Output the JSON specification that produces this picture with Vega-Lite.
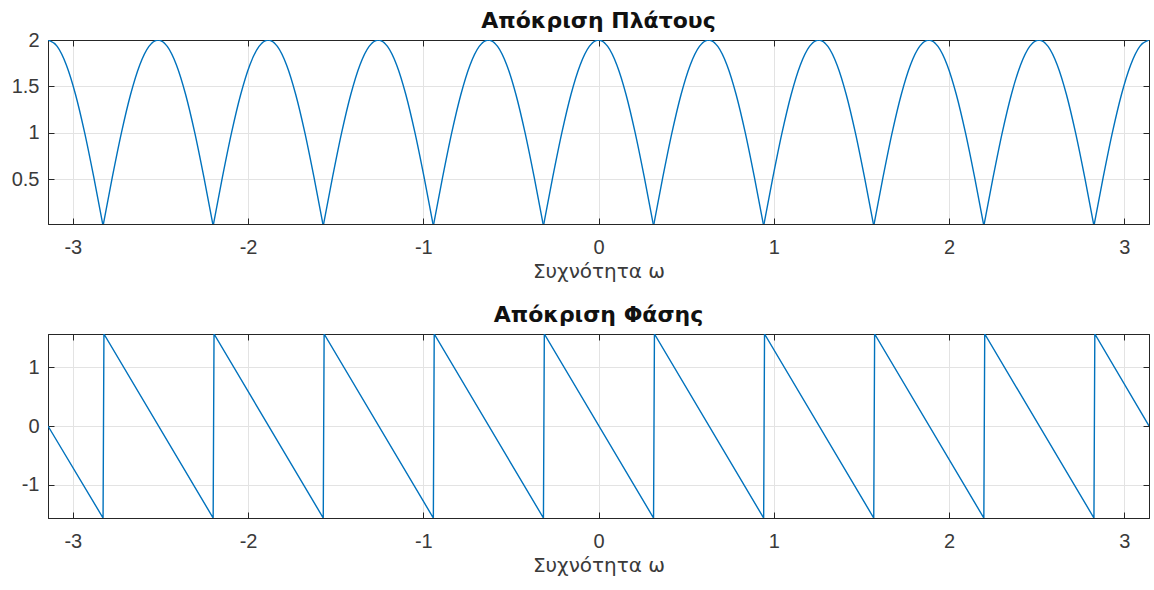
{
  "$schema": "https://vega.github.io/schema/vega-lite/v6.json",
  "padding": {"left": 10, "top": 9, "right": 4, "bottom": 4},
  "background": "white",
  "spacing": 21,
  "datasets": {
    "mag": [
      {"k": 0, "w": -3.1416, "m": 2}, {"k": 0, "w": -3.0892, "m": 1.932}, {"k": 0, "w": -3.0369, "m": 1.732}, {"k": 0, "w": -2.9845, "m": 1.414},
      {"k": 0, "w": -2.9322, "m": 1}, {"k": 0, "w": -2.8798, "m": 0.518}, {"k": 0, "w": -2.8274, "m": 0},
      {"k": 1, "w": -2.8274, "m": 0}, {"k": 1, "w": -2.7751, "m": 0.518}, {"k": 1, "w": -2.7227, "m": 1}, {"k": 1, "w": -2.6704, "m": 1.414},
      {"k": 1, "w": -2.618, "m": 1.732}, {"k": 1, "w": -2.5656, "m": 1.932}, {"k": 1, "w": -2.5133, "m": 2}, {"k": 1, "w": -2.4609, "m": 1.932},
      {"k": 1, "w": -2.4086, "m": 1.732}, {"k": 1, "w": -2.3562, "m": 1.414}, {"k": 1, "w": -2.3038, "m": 1}, {"k": 1, "w": -2.2515, "m": 0.518},
      {"k": 1, "w": -2.1991, "m": 0},
      {"k": 2, "w": -2.1991, "m": 0}, {"k": 2, "w": -2.1468, "m": 0.518}, {"k": 2, "w": -2.0944, "m": 1}, {"k": 2, "w": -2.042, "m": 1.414},
      {"k": 2, "w": -1.9897, "m": 1.732}, {"k": 2, "w": -1.9373, "m": 1.932}, {"k": 2, "w": -1.885, "m": 2}, {"k": 2, "w": -1.8326, "m": 1.932},
      {"k": 2, "w": -1.7802, "m": 1.732}, {"k": 2, "w": -1.7279, "m": 1.414}, {"k": 2, "w": -1.6755, "m": 1}, {"k": 2, "w": -1.6232, "m": 0.518},
      {"k": 2, "w": -1.5708, "m": 0},
      {"k": 3, "w": -1.5708, "m": 0}, {"k": 3, "w": -1.5184, "m": 0.518}, {"k": 3, "w": -1.4661, "m": 1}, {"k": 3, "w": -1.4137, "m": 1.414},
      {"k": 3, "w": -1.3614, "m": 1.732}, {"k": 3, "w": -1.309, "m": 1.932}, {"k": 3, "w": -1.2566, "m": 2}, {"k": 3, "w": -1.2043, "m": 1.932},
      {"k": 3, "w": -1.1519, "m": 1.732}, {"k": 3, "w": -1.0996, "m": 1.414}, {"k": 3, "w": -1.0472, "m": 1}, {"k": 3, "w": -0.9948, "m": 0.518},
      {"k": 3, "w": -0.9425, "m": 0},
      {"k": 4, "w": -0.9425, "m": 0}, {"k": 4, "w": -0.8901, "m": 0.518}, {"k": 4, "w": -0.8378, "m": 1}, {"k": 4, "w": -0.7854, "m": 1.414},
      {"k": 4, "w": -0.733, "m": 1.732}, {"k": 4, "w": -0.6807, "m": 1.932}, {"k": 4, "w": -0.6283, "m": 2}, {"k": 4, "w": -0.576, "m": 1.932},
      {"k": 4, "w": -0.5236, "m": 1.732}, {"k": 4, "w": -0.4712, "m": 1.414}, {"k": 4, "w": -0.4189, "m": 1}, {"k": 4, "w": -0.3665, "m": 0.518},
      {"k": 4, "w": -0.3142, "m": 0},
      {"k": 5, "w": -0.3142, "m": 0}, {"k": 5, "w": -0.2618, "m": 0.518}, {"k": 5, "w": -0.2094, "m": 1}, {"k": 5, "w": -0.1571, "m": 1.414},
      {"k": 5, "w": -0.1047, "m": 1.732}, {"k": 5, "w": -0.0524, "m": 1.932}, {"k": 5, "w": 0, "m": 2}, {"k": 5, "w": 0.0524, "m": 1.932},
      {"k": 5, "w": 0.1047, "m": 1.732}, {"k": 5, "w": 0.1571, "m": 1.414}, {"k": 5, "w": 0.2094, "m": 1}, {"k": 5, "w": 0.2618, "m": 0.518},
      {"k": 5, "w": 0.3142, "m": 0},
      {"k": 6, "w": 0.3142, "m": 0}, {"k": 6, "w": 0.3665, "m": 0.518}, {"k": 6, "w": 0.4189, "m": 1}, {"k": 6, "w": 0.4712, "m": 1.414},
      {"k": 6, "w": 0.5236, "m": 1.732}, {"k": 6, "w": 0.576, "m": 1.932}, {"k": 6, "w": 0.6283, "m": 2}, {"k": 6, "w": 0.6807, "m": 1.932},
      {"k": 6, "w": 0.733, "m": 1.732}, {"k": 6, "w": 0.7854, "m": 1.414}, {"k": 6, "w": 0.8378, "m": 1}, {"k": 6, "w": 0.8901, "m": 0.518},
      {"k": 6, "w": 0.9425, "m": 0},
      {"k": 7, "w": 0.9425, "m": 0}, {"k": 7, "w": 0.9948, "m": 0.518}, {"k": 7, "w": 1.0472, "m": 1}, {"k": 7, "w": 1.0996, "m": 1.414},
      {"k": 7, "w": 1.1519, "m": 1.732}, {"k": 7, "w": 1.2043, "m": 1.932}, {"k": 7, "w": 1.2566, "m": 2}, {"k": 7, "w": 1.309, "m": 1.932},
      {"k": 7, "w": 1.3614, "m": 1.732}, {"k": 7, "w": 1.4137, "m": 1.414}, {"k": 7, "w": 1.4661, "m": 1}, {"k": 7, "w": 1.5184, "m": 0.518},
      {"k": 7, "w": 1.5708, "m": 0},
      {"k": 8, "w": 1.5708, "m": 0}, {"k": 8, "w": 1.6232, "m": 0.518}, {"k": 8, "w": 1.6755, "m": 1}, {"k": 8, "w": 1.7279, "m": 1.414},
      {"k": 8, "w": 1.7802, "m": 1.732}, {"k": 8, "w": 1.8326, "m": 1.932}, {"k": 8, "w": 1.885, "m": 2}, {"k": 8, "w": 1.9373, "m": 1.932},
      {"k": 8, "w": 1.9897, "m": 1.732}, {"k": 8, "w": 2.042, "m": 1.414}, {"k": 8, "w": 2.0944, "m": 1}, {"k": 8, "w": 2.1468, "m": 0.518},
      {"k": 8, "w": 2.1991, "m": 0},
      {"k": 9, "w": 2.1991, "m": 0}, {"k": 9, "w": 2.2515, "m": 0.518}, {"k": 9, "w": 2.3038, "m": 1}, {"k": 9, "w": 2.3562, "m": 1.414},
      {"k": 9, "w": 2.4086, "m": 1.732}, {"k": 9, "w": 2.4609, "m": 1.932}, {"k": 9, "w": 2.5133, "m": 2}, {"k": 9, "w": 2.5656, "m": 1.932},
      {"k": 9, "w": 2.618, "m": 1.732}, {"k": 9, "w": 2.6704, "m": 1.414}, {"k": 9, "w": 2.7227, "m": 1}, {"k": 9, "w": 2.7751, "m": 0.518},
      {"k": 9, "w": 2.8274, "m": 0},
      {"k": 10, "w": 2.8274, "m": 0}, {"k": 10, "w": 2.8798, "m": 0.518}, {"k": 10, "w": 2.9322, "m": 1}, {"k": 10, "w": 2.9845, "m": 1.414},
      {"k": 10, "w": 3.0369, "m": 1.732}, {"k": 10, "w": 3.0892, "m": 1.932}, {"k": 10, "w": 3.1416, "m": 2}
    ],
    "phase": [
      {"i": 0, "w": -3.1416, "p": 0},
      {"i": 1, "w": -2.8274, "p": -1.5708}, {"i": 2, "w": -2.8224, "p": 1.5708},
      {"i": 3, "w": -2.1991, "p": -1.5708}, {"i": 4, "w": -2.1941, "p": 1.5708},
      {"i": 5, "w": -1.5708, "p": -1.5708}, {"i": 6, "w": -1.5658, "p": 1.5708},
      {"i": 7, "w": -0.9425, "p": -1.5708}, {"i": 8, "w": -0.9375, "p": 1.5708},
      {"i": 9, "w": -0.3142, "p": -1.5708}, {"i": 10, "w": -0.3092, "p": 1.5708},
      {"i": 11, "w": 0.3142, "p": -1.5708}, {"i": 12, "w": 0.3192, "p": 1.5708},
      {"i": 13, "w": 0.9425, "p": -1.5708}, {"i": 14, "w": 0.9475, "p": 1.5708},
      {"i": 15, "w": 1.5708, "p": -1.5708}, {"i": 16, "w": 1.5758, "p": 1.5708},
      {"i": 17, "w": 2.1991, "p": -1.5708}, {"i": 18, "w": 2.2041, "p": 1.5708},
      {"i": 19, "w": 2.8274, "p": -1.5708}, {"i": 20, "w": 2.8324, "p": 1.5708},
      {"i": 21, "w": 3.1416, "p": 0}
    ]
  },
  "vconcat": [
    {
      "width": 1101, "height": 184,
      "title": {"text": "Απόκριση Πλάτους", "offset": -2.5},
      "data": {"name": "mag"},
      "layer": [
        {
          "mark": {"type": "line", "color": "#0072BD", "strokeWidth": 1.4, "clip": true, "interpolate": "monotone"},
          "encoding": {
            "x": {"field": "w", "type": "quantitative", "scale": {"domain": [-3.1416, 3.1416], "nice": false, "zero": false},
                  "axis": {"values": [-3, -2, -1, 0, 1, 2, 3], "title": "Συχνότητα ω", "grid": true}},
            "y": {"field": "m", "type": "quantitative", "scale": {"domain": [0.02, 2], "nice": false, "zero": false},
                  "axis": {"values": [0.5, 1, 1.5, 2], "title": null, "grid": true}},
            "detail": {"field": "k", "type": "nominal"}
          }
        },
        {
          "mark": {"type": "line", "strokeOpacity": 0},
          "encoding": {
            "x": {"field": "w", "type": "quantitative", "axis": {"orient": "top", "values": [-3, -2, -1, 0, 1, 2, 3], "labels": false, "grid": false, "title": null}},
            "y": {"field": "m", "type": "quantitative", "axis": {"orient": "right", "values": [0.5, 1, 1.5, 2], "labels": false, "grid": false, "title": null}},
            "detail": {"field": "k", "type": "nominal"}
          }
        }
      ],
      "resolve": {"axis": {"x": "independent", "y": "independent"}}
    },
    {
      "width": 1101, "height": 184,
      "title": {"text": "Απόκριση Φάσης", "offset": 6.5},
      "data": {"name": "phase"},
      "layer": [
        {
          "mark": {"type": "line", "color": "#0072BD", "strokeWidth": 1.4, "clip": true},
          "encoding": {
            "x": {"field": "w", "type": "quantitative", "scale": {"domain": [-3.1416, 3.1416], "nice": false, "zero": false},
                  "axis": {"values": [-3, -2, -1, 0, 1, 2, 3], "title": "Συχνότητα ω", "grid": true}},
            "y": {"field": "p", "type": "quantitative", "scale": {"domain": [-1.5708, 1.5708], "nice": false, "zero": false},
                  "axis": {"values": [-1, 0, 1], "title": null, "grid": true}},
            "order": {"field": "i", "type": "quantitative"}
          }
        },
        {
          "mark": {"type": "line", "strokeOpacity": 0},
          "encoding": {
            "x": {"field": "w", "type": "quantitative", "axis": {"orient": "top", "values": [-3, -2, -1, 0, 1, 2, 3], "labels": false, "grid": false, "title": null}},
            "y": {"field": "p", "type": "quantitative", "axis": {"orient": "right", "values": [-1, 0, 1], "labels": false, "grid": false, "title": null}},
            "order": {"field": "i", "type": "quantitative"}
          }
        }
      ],
      "resolve": {"axis": {"x": "independent", "y": "independent"}}
    }
  ],
  "config": {
    "font": "Liberation Sans",
    "view": {"stroke": "#262626", "strokeWidth": 1},
    "axis": {
      "domainColor": "#262626", "tickColor": "#262626", "tickSize": -6, "tickWidth": 1,
      "labelFontSize": 20, "labelColor": "#3a3a3a", "labelFont": "Liberation Sans", "labelPadding": 19,
      "labelExpr": "'' + datum.value",
      "gridColor": "#e3e3e3", "gridWidth": 1,
      "titleFontSize": 20, "titleFontWeight": "normal", "titleColor": "#3a3a3a", "titleFont": "DejaVu Sans", "titlePadding": 4
    },
    "axisY": {"labelPadding": 15},
    "title": {"fontSize": 22, "fontWeight": "bold", "color": "#111111", "font": "DejaVu Sans", "anchor": "middle"}
  }
}
